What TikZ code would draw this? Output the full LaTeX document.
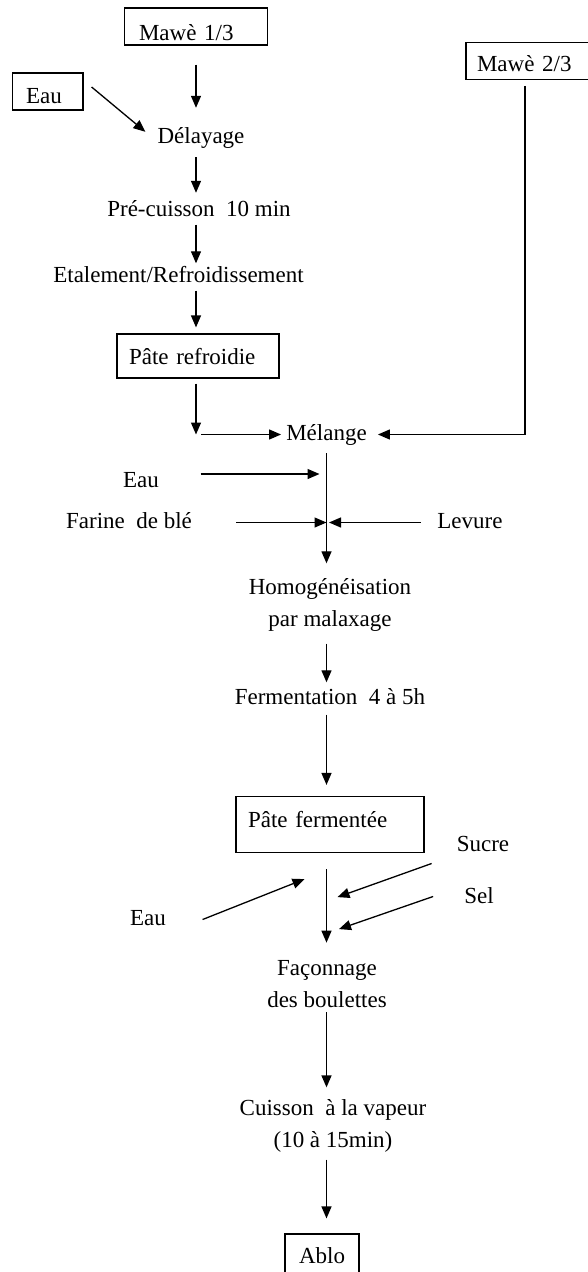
\documentclass[tikz,border=0pt]{standalone}
\usepackage{fontspec}
\setmainfont{Liberation Serif}
\usepackage{tikz}
\usetikzlibrary{positioning,arrows.meta,calc}

\begin{document}
\begin{tikzpicture}[
  every node/.style={font=\fontsize{23}{32}\selectfont},
  etape/.style={inner sep=3pt, text height=16pt, text depth=5pt},
  etape2/.style={inner sep=3pt, align=center},
  boite/.style={draw, line width=1.2pt, text depth=0pt, inner ysep=0pt, align=left},
  fleche/.style={-{Triangle[length=12pt,width=10pt]}, line width=1.3pt},
  on grid]
\useasboundingbox (0,0) rectangle (588pt,-1272pt);

\node[boite, minimum height=37pt, text height=27pt, text width=114pt, inner xsep=14.5pt] (Mawe1) at (196pt,-26.5pt) {Mawè 1/3};
\node[boite, minimum height=37pt, text height=23.6pt, text width=43.4pt, inner xsep=13.6pt] (Eau1) [below left = 65pt and 148.3pt of Mawe1] {Eau};
\node[boite, minimum height=36.5pt, text height=21.7pt, text width=104pt, inner xsep=11pt] (Mawe2) [below right = 34.5pt and 333pt of Mawe1] {Mawè 2/3};
\node[etape] (Delayage)   [below right = 111.5pt and 5pt of Mawe1]    {Délayage};
\node[etape] (Precuisson) [below left = 73pt and 2pt of Delayage]     {Pré-cuisson~ 10 min};
\node[etape] (Etalement)  [below left = 66pt and 20.5pt of Precuisson] {Etalement/Refroidissement};
\node[boite, minimum height=44pt, text height=16pt, text width=138pt, inner xsep=12pt] (PateR) [below right = 79pt and 19.5pt of Etalement] {Pâte refroidie};
\node[etape] (Melange)    [below right = 78.5pt and 128.5pt of PateR] {Mélange};
\node[etape] (Eau2)       [below left = 47.5pt and 185.5pt of Melange] {Eau};
\node[etape] (Farine)     [below left = 88pt and 197.5pt of Melange]  {Farine~ de blé};
\node[etape] (Levure)     [below right = 88pt and 143.5pt of Melange] {Levure};
\node[etape2] (Homog)     [below right = 170.5pt and 3.5pt of Melange] {Homogénéisation\\par malaxage};
\node[etape] (Ferment)    [below = 93.5pt of Homog]                   {Fermentation~ 4 à 5h};
\node[boite, minimum height=56pt, text height=16pt, text depth=10.6pt, text width=164pt, inner xsep=12pt] (PateF) [below = 126pt of Ferment] {Pâte fermentée};
\node[etape] (Sucre)      [below right = 21pt and 153pt of PateF]     {Sucre};
\node[etape] (Sel)        [below right = 73pt and 149pt of PateF]     {Sel};
\node[etape] (Eau3)       [below left = 95pt and 182pt of PateF]      {Eau};
\node[etape2] (Faconnage) [below left = 160pt and 3pt of PateF]       {Façonnage\\des boulettes};
\node[etape2] (Cuisson)   [below right = 141.5pt and 6pt of Faconnage] {Cuisson~ à la vapeur\\(10 à 15min)};
\node[boite, minimum height=44pt, text height=16pt, text depth=0.6pt, text width=46pt, inner xsep=14pt] (Ablo) [below left = 130pt and 11pt of Cuisson] {Ablo};

% premiere partie
\draw[fleche, shorten <=19pt, shorten >=16.5pt] (Mawe1.south) -- (Delayage.north -| Mawe1);
\draw[fleche] ([xshift=8pt,yshift=4.5pt]Eau1.east) -- ([xshift=-9pt,yshift=-7.5pt]Delayage.north west);
\draw[fleche, shorten <=5.5pt, shorten >=4.5pt] (Delayage.south -| Mawe1) -- (Precuisson.north -| Mawe1);
\draw[fleche] (Precuisson.south -| Mawe1) -- (Etalement.north -| Mawe1);
\draw[fleche, shorten >=6pt] (Etalement.south -| Mawe1) -- (PateR.north -| Mawe1);
\coordinate (coin) at (Mawe1 |- Melange);
\draw[fleche, shorten <=5pt] (PateR.south -| Mawe1) -- (coin);
\draw[fleche, shorten <=5pt, shorten >=2pt] (coin) -- (Melange.west);
\draw[fleche, shorten <=6pt, shorten >=8pt] ([xshift=-4pt]Mawe2.south) |- (Melange.east);

% melange et ajouts
\draw[fleche, shorten <=5pt, shorten >=12pt] (Melange.south) -- (Homog.north -| Melange);
\draw[fleche, shorten <=38.5pt, shorten >=7pt] ([yshift=8pt]Eau2.east) -- ([yshift=8pt]Eau2.east -| Melange);
\draw[fleche, shorten <=41pt] (Farine.east) -- (Farine.east -| Melange);
\draw[fleche, shorten <=13.5pt, shorten >=2.5pt] (Levure.west) -- (Levure.west -| Melange);

% fermentation et suite
\draw[fleche, shorten <=9pt, shorten >=2.5pt] (Homog.south -| Melange) -- (Ferment.north -| Melange);
\draw[fleche, shorten <=2.5pt, shorten >=11pt] (Ferment.south -| Melange) -- (PateF.north -| Melange);
\draw[fleche, shorten <=16pt, shorten >=15pt] (PateF.south -| Melange) -- (Faconnage.north -| Melange);
\draw[fleche] ([xshift=33.5pt]Eau3.east) -- ([xshift=-25.5pt,yshift=-26pt]PateF.south);
\draw[fleche] ([xshift=-22pt,yshift=-18pt]Sucre.west) -- ([xshift=7.5pt,yshift=-44pt]PateF.south);
\draw[fleche] ([xshift=-28pt,yshift=1pt]Sel.west) -- ([xshift=9pt,yshift=-76pt]PateF.south);
\draw[fleche, shorten <=1pt, shorten >=9pt] (Faconnage.south -| Melange) -- (Cuisson.north -| Melange);
\draw[fleche, shorten <=4pt, shorten >=15pt] (Cuisson.south -| Melange) -- (Ablo.north -| Melange);
\end{tikzpicture}
\end{document}
